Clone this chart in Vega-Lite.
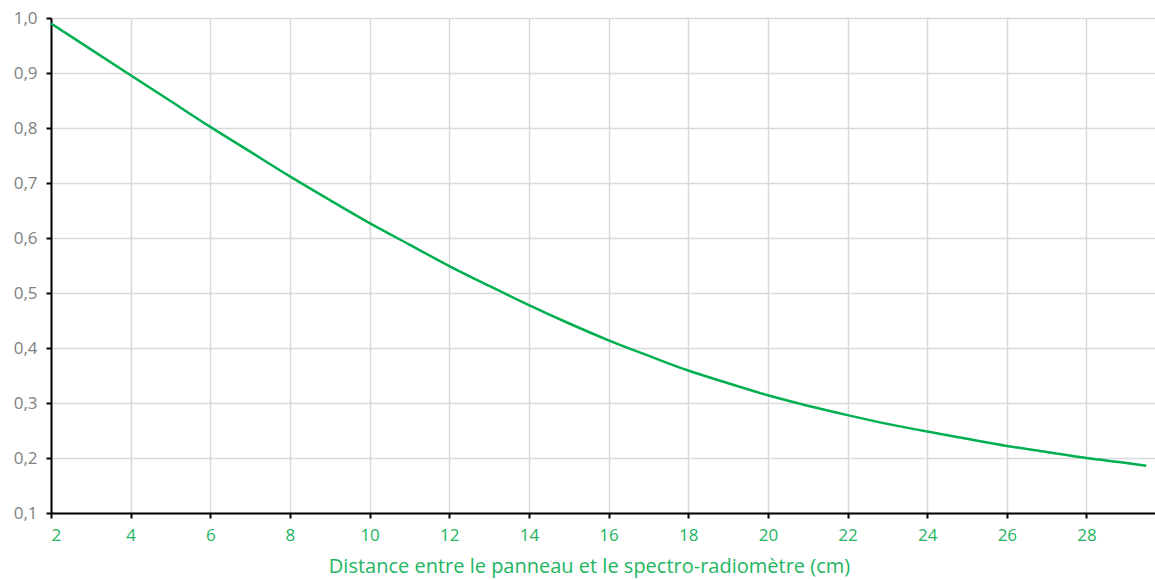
{
  "$schema": "https://vega.github.io/schema/vega-lite/v6.json",
  "width": 1104,
  "height": 495,
  "autosize": "none",
  "padding": {"left": 51, "top": 18, "right": 0, "bottom": 67},
  "background": "white",
  "config": {"view": {"stroke": null}, "font": "Open Sans"},
  "data": {"values": [
    {"d": 2, "v": 0.99}, {"d": 3, "v": 0.943}, {"d": 4, "v": 0.896}, {"d": 5, "v": 0.849},
    {"d": 6, "v": 0.802}, {"d": 7, "v": 0.757}, {"d": 8, "v": 0.712}, {"d": 9, "v": 0.669},
    {"d": 10, "v": 0.627}, {"d": 11, "v": 0.588}, {"d": 12, "v": 0.549}, {"d": 13, "v": 0.513},
    {"d": 14, "v": 0.478}, {"d": 15, "v": 0.445}, {"d": 16, "v": 0.414}, {"d": 17, "v": 0.386},
    {"d": 18, "v": 0.359}, {"d": 19, "v": 0.336}, {"d": 20, "v": 0.314}, {"d": 21, "v": 0.295},
    {"d": 22, "v": 0.278}, {"d": 23, "v": 0.262}, {"d": 24, "v": 0.248}, {"d": 25, "v": 0.235},
    {"d": 26, "v": 0.222}, {"d": 27, "v": 0.211}, {"d": 28, "v": 0.2}, {"d": 29, "v": 0.191},
    {"d": 29.5, "v": 0.186}
  ]},
  "mark": {"type": "line", "color": "#00b050", "strokeWidth": 2.5, "interpolate": "monotone"},
  "encoding": {
    "x": {
      "field": "d", "type": "quantitative",
      "scale": {"domain": [2, 29.72], "nice": false, "zero": false},
      "axis": {
        "values": [2, 4, 6, 8, 10, 12, 14, 16, 18, 20, 22, 24, 26, 28],
        "title": "Distance entre le panneau et le spectro-radiomètre (cm)",
        "titleColor": "#22b561", "titleFontSize": 20, "titleFontWeight": "normal",
        "titleFont": "Open Sans", "titlePadding": 13,
        "titleX": 538, "titleAnchor": "start", "titleAlign": "center",
        "labelColor": "#22b561", "labelFontSize": 17, "labelFont": "Open Sans", "labelPadding": 9,
        "domainColor": "#000000", "domainWidth": 2,
        "tickColor": "#000000", "tickWidth": 2, "tickSize": 5,
        "grid": true, "gridColor": "#d9d9d9", "gridWidth": 1.5
      }
    },
    "y": {
      "field": "v", "type": "quantitative",
      "scale": {"domain": [0.1, 1.0], "nice": false, "zero": false},
      "axis": {
        "values": [0.1, 0.2, 0.3, 0.4, 0.5, 0.6, 0.7, 0.8, 0.9, 1.0],
        "labelExpr": "replace(format(datum.value, '.1f'), '.', ',')",
        "title": null,
        "labelColor": "#7f7f7f", "labelFontSize": 17, "labelFont": "Open Sans", "labelPadding": 9,
        "domainColor": "#000000", "domainWidth": 2,
        "tickColor": "#000000", "tickWidth": 2, "tickSize": 5,
        "grid": true, "gridColor": "#d9d9d9", "gridWidth": 1.5
      }
    }
  }
}
